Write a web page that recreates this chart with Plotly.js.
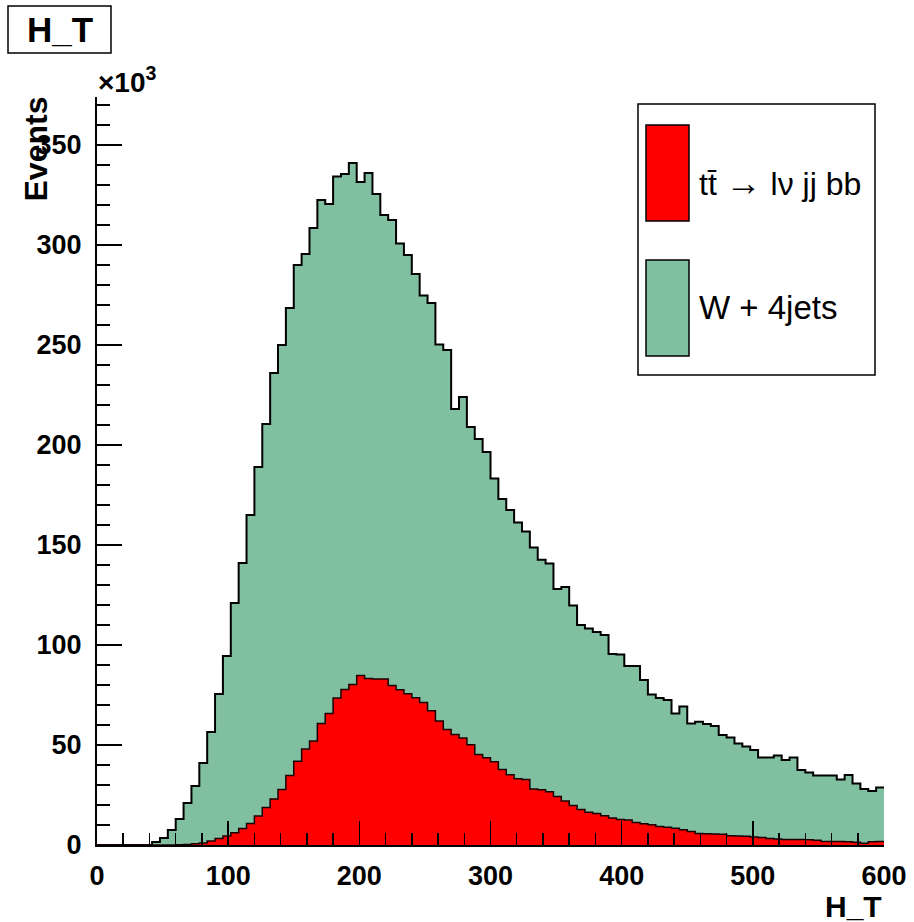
<!DOCTYPE html>
<html><head><meta charset="utf-8">
<script src="https://cdn.plot.ly/plotly-3.0.1.min.js"></script>
<style>html,body{margin:0;padding:0;background:#fff}</style>
</head><body>
<div id="chart" style="width:914px;height:922px"></div>
<script>
// H_T histogram: 100 bins from 0 to 600 (width 6), values in units of 10^3 events
const binLow = 0;
const binWidth = 6;
const ttbar = [
  0,0,0,0,0,0,0,0,0,0,
  0.1,0.3,0.6,1.0,2.0,3.2,4.5,6.1,8.2,10.7,
  14.5,18.7,23.0,27.8,34.8,41.9,48.0,52.0,60.8,65.8,
  73.5,77.8,80.2,84.8,83.2,83.0,83.0,79.8,77.6,75.6,
  73.6,71.3,67.1,62.0,57.7,55.2,53.5,50.1,45.3,43.6,
  41.6,37.8,35.1,33.1,32.7,28.0,27.6,26.6,24.2,22.0,
  19.8,17.8,16.4,15.7,14.6,13.5,12.8,12.5,11.3,10.6,
  10.1,9.3,8.9,8.4,7.6,6.8,5.8,5.6,5.5,5.4,
  4.6,4.5,4.4,4.0,3.7,3.3,3.0,2.8,2.8,2.7,
  2.6,2.4,1.8,1.7,1.7,1.6,1.4,0.9,1.6,1.7
];
const wjets = [
  0,0,0,0,0,0,0,1.5,3.5,7.5,
  12.9,20.7,28.9,40.0,54.5,72.3,90.0,114.9,132.8,154.3,
  174.5,191.8,213.0,222.2,233.7,248.1,247.5,256.5,261.7,254.7,
  260.8,257.7,260.8,246.7,252.8,242.5,232.0,232.7,223.2,219.4,
  211.9,203.4,203.9,188.3,189.8,162.8,170.5,158.9,157.7,152.9,
  141.6,135.2,132.4,128.2,124.1,120.7,115.0,114.2,103.8,107.0,
  100.0,92.2,91.8,90.8,90.4,82.0,82.5,77.0,78.2,71.9,
  65.1,64.2,63.6,57.4,61.7,54.0,55.8,54.9,54.0,49.6,
  49.1,46.3,44.8,43.5,40.1,40.5,41.7,39.7,41.0,34.8,
  33.6,32.3,32.9,33.0,31.1,33.4,29.4,27.1,25.4,27.1
];
const xTickVals = [0,100,200,300,400,500,600];
const yTickVals = [0,50,100,150,200,250,300,350];
const legendLabels = ["tt\u0304 <span style='font-size:36px'>\u2192</span> l\u03bd jj bb", "W + 4jets"];
const histTitle = "H_T";
const xTitle = "H_T";
const yTitle = "Events";

const colRed = "#ff0000";
const colGreen = "#80bf9f";

// bin edges and step arrays
const n = ttbar.length;
const edges = [];
for (let i = 0; i <= n; i++) edges.push(binLow + i * binWidth);
const total = ttbar.map((v, i) => v + wjets[i]);
const stepY = arr => arr.concat([arr[arr.length - 1]]);

// pixel -> paper helpers
const L = 97, R = 884, T = 97, B = 845;
const px = x => (x - L) / (R - L);
const py = y => (B - y) / (B - T);

const traces = [
  {x: edges, y: stepY(total), mode: "lines", line: {shape: "hv", color: "#000", width: 2},
   fill: "tozeroy", fillcolor: colGreen, hoverinfo: "skip"},
  {x: edges, y: stepY(ttbar), mode: "lines", line: {shape: "hv", color: "#1a0000", width: 1.5},
   fill: "tozeroy", fillcolor: colRed, hoverinfo: "skip"}
];

const tickFont = {family: "'Liberation Sans', Arial, sans-serif", size: 27, color: "#000", weight: "bold"};

const layout = {
  width: 914, height: 922,
  margin: {l: L, r: 914 - R, t: T, b: 922 - B, pad: 0},
  paper_bgcolor: "#fff", plot_bgcolor: "#fff",
  showlegend: false,
  xaxis: {
    range: [0, 600], tickvals: xTickVals, ticktext: xTickVals.map(String),
    ticks: "inside", ticklen: 24, tickwidth: 1.5, tickcolor: "#000",
    minor: {dtick: 20, tick0: 0, ticks: "inside", ticklen: 12, tickwidth: 1.5, tickcolor: "#000"},
    showline: true, linecolor: "#000", linewidth: 2,
    showgrid: false, zeroline: false, tickfont: tickFont, ticklabelstandoff: 6
  },
  yaxis: {
    range: [0, 374], tickvals: yTickVals, ticktext: yTickVals.map(String),
    ticks: "inside", ticklen: 25, tickwidth: 1.5, tickcolor: "#000",
    minor: {dtick: 10, tick0: 0, ticks: "inside", ticklen: 13, tickwidth: 1.5, tickcolor: "#000"},
    showline: true, linecolor: "#000", linewidth: 2,
    showgrid: false, zeroline: false, tickfont: tickFont, ticklabelstandoff: 8
  },
  shapes: [
    // title box
    {type: "rect", xref: "paper", yref: "paper", x0: px(8), x1: px(111), y0: py(6), y1: py(53),
     line: {color: "#000", width: 1.5}, fillcolor: "#fff"},
    // legend box
    {type: "rect", xref: "paper", yref: "paper", x0: px(638), x1: px(875), y0: py(104), y1: py(375),
     line: {color: "#000", width: 1.5}, fillcolor: "#fff"},
    {type: "rect", xref: "paper", yref: "paper", x0: px(646), x1: px(689), y0: py(125), y1: py(221),
     line: {color: "#000", width: 1.5}, fillcolor: colRed},
    {type: "rect", xref: "paper", yref: "paper", x0: px(646), x1: px(689), y0: py(260), y1: py(356),
     line: {color: "#000", width: 1.5}, fillcolor: colGreen}
  ],
  annotations: [
    {text: histTitle, xref: "paper", yref: "paper", x: px(59.5), y: py(30), xanchor: "center", yanchor: "middle",
     showarrow: false, font: {family: "'Liberation Sans', Arial, sans-serif", size: 35, color: "#000", weight: "bold"}},
    {text: "\u00d710<sup>3</sup>", xref: "paper", yref: "paper", x: px(96), y: py(80), xanchor: "left", yanchor: "middle",
     showarrow: false, font: {family: "'Liberation Sans', Arial, sans-serif", size: 28, color: "#000", weight: "bold"}},
    {text: yTitle, xref: "paper", yref: "paper", x: px(35), y: py(95), xanchor: "center", yanchor: "top", textangle: -90,
     showarrow: false, font: {family: "'Liberation Sans', Arial, sans-serif", size: 32, color: "#000", weight: "bold"}},
    {text: xTitle, xref: "paper", yref: "paper", x: px(884), y: py(906), xanchor: "right", yanchor: "middle",
     showarrow: false, font: {family: "'Liberation Sans', Arial, sans-serif", size: 30, color: "#000", weight: "bold"}},
    {text: legendLabels[0], xref: "paper", yref: "paper", x: px(697), y: py(182), xanchor: "left", yanchor: "middle",
     showarrow: false, font: {family: "'Liberation Sans', Arial, sans-serif", size: 32, color: "#000"}},
    {text: legendLabels[1], xref: "paper", yref: "paper", x: px(697), y: py(307), xanchor: "left", yanchor: "middle",
     showarrow: false, font: {family: "'Liberation Sans', Arial, sans-serif", size: 33, color: "#000"}}
  ]
};

Plotly.newPlot("chart", traces, layout, {staticPlot: true, displayModeBar: false});
</script>
</body></html>
